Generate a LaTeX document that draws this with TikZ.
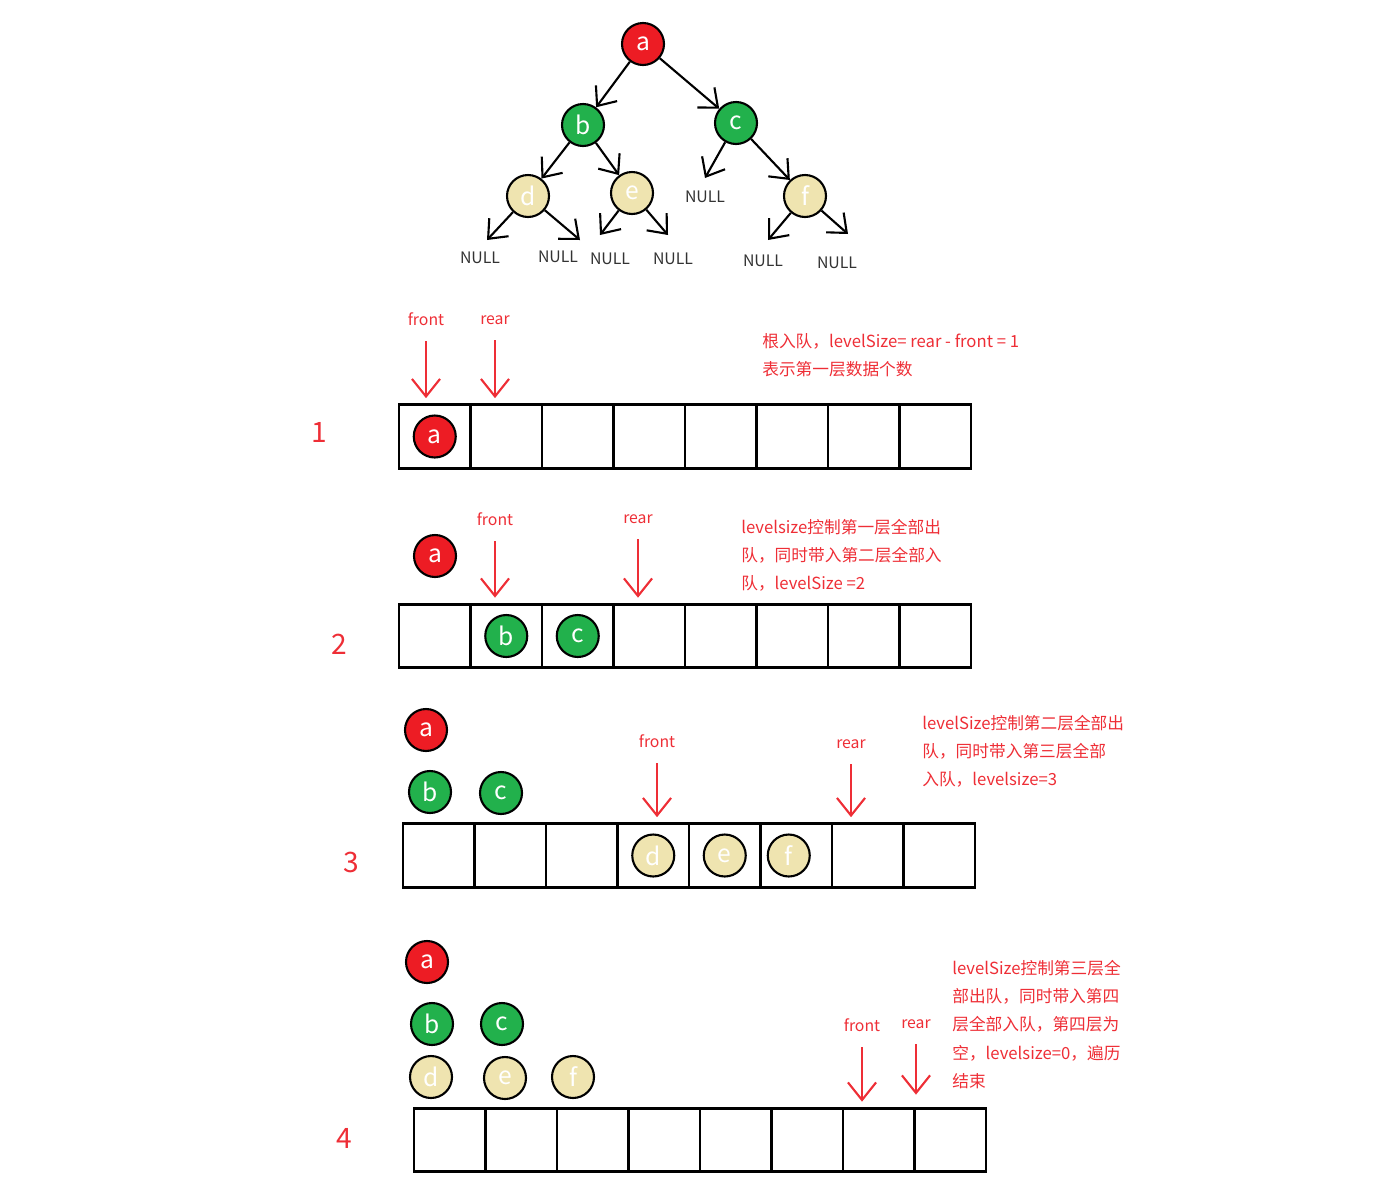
\documentclass[tikz,border=0pt]{standalone}
\usepackage{fontspec}
\setmainfont{Noto Sans CJK SC}
\usetikzlibrary{arrows.meta}
\definecolor{nodered}{HTML}{ED1C24}
\definecolor{nodegreen}{HTML}{22B14C}
\definecolor{nodebeige}{HTML}{EFE4B0}
\definecolor{notered}{HTML}{EE2E36}
\definecolor{nullgray}{HTML}{333333}

\begin{document}
\begin{tikzpicture}[x=0.02cm, y=-0.02cm,
    elem/.style={circle, draw=black, line width=1.2pt, minimum size=0.84cm,
      inner sep=0pt, text=white, font=\fontsize{14}{14}\selectfont},
    rt/.style={elem, fill=nodered},
    lvtwo/.style={elem, fill=nodegreen},
    lvthree/.style={elem, fill=nodebeige},
    cell/.style={draw, line width=1.5pt, minimum width=1.43cm,
      minimum height=1.27cm, inner sep=0pt},
    null/.style={text=nullgray, font=\fontsize{9}{9}\selectfont},
    edge/.style={line width=1.2pt, ->},
    ptr/.style={draw=notered, line width=1.2pt,
      -{Straight Barb[length=10pt,width=16pt]}, shorten <=5.5pt, shorten >=3pt},
    ptrlbl/.style={text=notered, font=\fontsize{9}{9}\selectfont},
    note/.style={text=notered, align=left, anchor=west, inner sep=0pt,
      font=\fontsize{9.5}{16}\selectfont},
    rowno/.style={text=notered, font=\fontsize{16}{16}\selectfont},
    >={Straight Barb[length=9pt,width=15pt]}]

  \useasboundingbox (0,0) rectangle (1386,1194);

  % the tree
  \node[rt] (a) at (643,44) {a};
  \node[lvtwo] (b) at (583,125) {b};
  \node[lvtwo] (c) at (736,123) {c};
  \node[lvthree] (d) at (528,196) {d};
  \node[lvthree] (e) at (632,193) {e};
  \node[lvthree] (f) at (805,196) {f};

  \node[null] (n1) at (480,258) {NULL};
  \node[null] (n2) at (558,257) {NULL};
  \node[null] (n3) at (610,259) {NULL};
  \node[null] (n4) at (673,259) {NULL};
  \node[null] (n5) at (705,197) {NULL};
  \node[null] (n6) at (763,261) {NULL};
  \node[null] (n7) at (837,263) {NULL};

  \coordinate (dl) at (487,240);
  \coordinate (dr) at (580,240);
  \coordinate (el) at (600,235);
  \coordinate (er) at (668,235);
  \coordinate (cl) at (705,178);
  \coordinate (fl) at (768,240);
  \coordinate (fr) at (848,234);

  \draw[edge] (a) -- (b);
  \draw[edge] (a) -- (c);
  \draw[edge] (b) -- (d);
  \draw[edge] (b) -- (e);
  \draw[edge] (c) -- (cl);
  \draw[edge] (c) -- (f);
  \draw[edge] (d) -- (dl);
  \draw[edge] (d) -- (dr);
  \draw[edge] (e) -- (el);
  \draw[edge] (e) -- (er);
  \draw[edge] (f) -- (fl);
  \draw[edge] (f) -- (fr);

  % the four queues
  \foreach \r/\x/\y in {1/399/436.5, 2/399/636, 3/403/855.5, 4/414/1140}
    \foreach \i in {1,...,8}
      \node[cell] (q\r-\i) at ({\x+71.5*(\i-0.5)},\y) {};

  \node[rowno] (r1) at (319,432) {1};
  \node[rowno] (r2) at (339,644) {2};
  \node[rowno] (r3) at (351,862) {3};
  \node[rowno] (r4) at (344,1138) {4};

  % step 1
  \node[rt] (a1) at (q1-1) {a};
  \node[ptrlbl] (fr1) at (426,319) {front};
  \node[ptrlbl] (re1) at (495,320) {rear};
  \draw[ptr] (fr1) -- (fr1 |- q1-1.north);
  \draw[ptr] (re1) -- (re1 |- q1-2.north);
  \node[note] (t1) at (762,355) {根入队，levelSize= rear - front = 1\\表示第一层数据个数};

  % step 2
  \node[rt] (a2) at (435,556) {a};
  \node[lvtwo] (b2) at (q2-2) {b};
  \node[lvtwo] (c2) at (q2-3) {c};
  \node[ptrlbl] (fr2) at (495,519) {front};
  \node[ptrlbl] (re2) at (638,519) {rear};
  \draw[ptr] (fr2) -- (fr2 |- q2-2.north);
  \draw[ptr] (re2) -- (re2 |- q2-4.north);
  \node[note] (t2) at (741,555) {levelsize控制第一层全部出\\队，同时带入第二层全部入\\队，levelSize =2};

  % step 3
  \node[rt] (a3) at (426,730) {a};
  \node[lvtwo] (b3) at (430,792) {b};
  \node[lvtwo] (c3) at (501,793) {c};
  \node[lvthree] (d3) at (q3-4) {d};
  \node[lvthree] (e3) at (q3-5) {e};
  \node[lvthree] (f3) at ([xshift=-0.15cm]q3-6) {f};
  \node[ptrlbl] (fr3) at (657,741) {front};
  \node[ptrlbl] (re3) at (851,744) {rear};
  \draw[ptr] (fr3) -- (fr3 |- q3-4.north);
  \draw[ptr] (re3) -- (re3 |- q3-7.north);
  \node[note] (t3) at (922,751) {levelSize控制第二层全部出\\队，同时带入第三层全部\\入队，levelsize=3};

  % step 4
  \node[rt] (a4) at (427,962) {a};
  \node[lvtwo] (b4) at (432,1024) {b};
  \node[lvtwo] (c4) at (502,1024) {c};
  \node[lvthree] (d4) at (431,1077) {d};
  \node[lvthree] (e4) at (505,1078) {e};
  \node[lvthree] (f4) at (573,1077) {f};
  \node[ptrlbl] (fr4) at (862,1025) {front};
  \node[ptrlbl] (re4) at (916,1024) {rear};
  \draw[ptr] (fr4) -- (fr4 |- q4-7.north);
  \draw[ptr, shorten >=7pt] (re4) -- (re4 |- q4-8.north);
  \node[note] (t4) at (952,1024.5) {levelSize控制第三层全\\部出队，同时带入第四\\层全部入队，第四层为\\空，levelsize=0，遍历\\结束};
\end{tikzpicture}
\end{document}
